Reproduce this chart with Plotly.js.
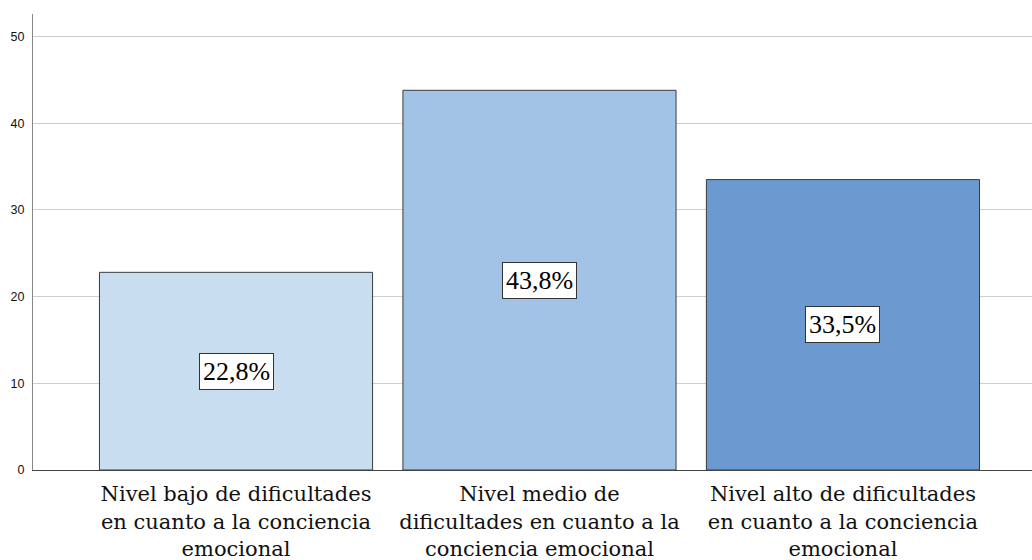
<!DOCTYPE html>
<html>
<head>
<meta charset="utf-8">
<script src="https://cdn.plot.ly/plotly-3.0.1.min.js"></script>
<style>html,body{margin:0;padding:0;background:#fff;}#chart{width:1032px;height:560px;}</style>
</head>
<body>
<div id="chart"></div>
<script>
const categories = ["Nivel bajo de dificultades en cuanto a la conciencia emocional",
                    "Nivel medio de dificultades en cuanto a la conciencia emocional",
                    "Nivel alto de dificultades en cuanto a la conciencia emocional"];
const tickLabels = ["Nivel bajo de dificultades<br>en cuanto a la conciencia<br>emocional",
                    "Nivel medio de<br>dificultades en cuanto a la<br>conciencia emocional",
                    "Nivel alto de dificultades<br>en cuanto a la conciencia<br>emocional"];
const values = [22.8, 43.8, 33.5];
const valueLabels = ["22,8%", "43,8%", "33,5%"];
const colors = ["#c9ddf1", "#a3c3e6", "#6b9ad1"];

const trace = {
  type: "bar",
  x: categories,
  y: values,
  width: 0.9,
  marker: {color: colors, line: {color: "#3a3a3a", width: 1}},
  hoverinfo: "skip"
};

const annotations = categories.map((c, i) => ({
  x: c, y: values[i] / 2, xref: "x", yref: "y",
  text: valueLabels[i], showarrow: false,
  font: {family: "Times New Roman", size: 26, color: "#000"},
  bgcolor: "#ffffff", bordercolor: "#333333", borderwidth: 1, borderpad: 3
}));

const layout = {
  width: 1032, height: 560,
  margin: {l: 33, r: 0, t: 14, b: 90},
  paper_bgcolor: "#ffffff", plot_bgcolor: "#ffffff",
  showlegend: false,
  xaxis: {
    type: "category",
    range: [-0.669, 2.623],
    tickvals: categories, ticktext: tickLabels,
    tickfont: {family: "DejaVu Serif", size: 21, color: "#111"},
    showgrid: false, zeroline: false,
    showline: true, linecolor: "#444", linewidth: 1,
    ticks: "", ticklen: 0, ticklabelstandoff: 5
  },
  yaxis: {
    range: [0, 52.6],
    tickvals: [0, 10, 20, 30, 40, 50],
    tickfont: {family: "Liberation Sans", size: 12.5, color: "#111"},
    showgrid: true, gridcolor: "#cfcfcf", gridwidth: 1,
    zeroline: false,
    showline: true, linecolor: "#888", linewidth: 1,
    ticks: "", ticklabelstandoff: 5
  },
  annotations: annotations
};

Plotly.newPlot("chart", [trace], layout, {displayModeBar: false, staticPlot: true});
</script>
</body>
</html>
